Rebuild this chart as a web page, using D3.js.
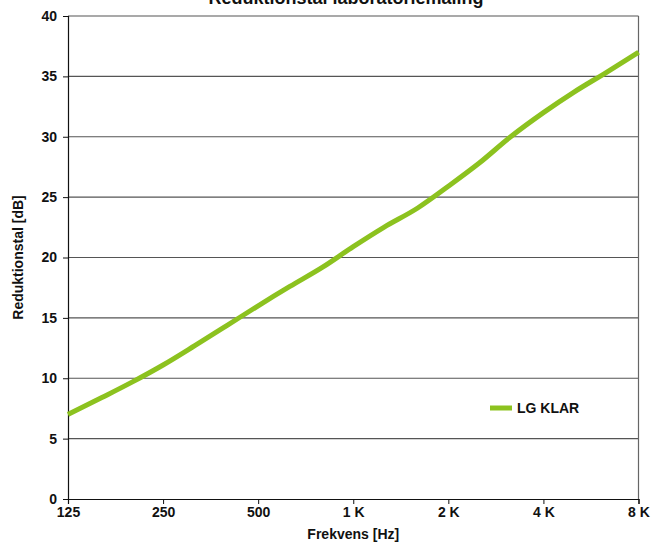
<!DOCTYPE html>
<html>
<head>
<meta charset="utf-8">
<script src="https://cdn.jsdelivr.net/npm/d3@7"></script>
<style>
  body { margin: 0; background: white; }
  text { font-family: "Liberation Sans", Arial, sans-serif; font-weight: bold; fill: #111; }
</style>
</head>
<body>
<script>
// frequencies (1/3 octave) and reduction values
var freqs = [125, 160, 200, 250, 315, 400, 500, 630, 800, 1000, 1250, 1600, 2000, 2500, 3150, 4000, 5000, 6300, 8000];
var values = [7.0, 8.4, 9.7, 11.1, 12.7, 14.4, 16.0, 17.6, 19.2, 20.9, 22.5, 24.1, 25.9, 27.8, 30.0, 32.0, 33.7, 35.3, 37.0];
var xTicks = [125, 250, 500, 1000, 2000, 4000, 8000];
var xTickLabels = ["125", "250", "500", "1 K", "2 K", "4 K", "8 K"];
var yTicks = [0, 5, 10, 15, 20, 25, 30, 35, 40];
var seriesName = "LG KLAR";

var w = 651, h = 545;
var margin = {top: 16, right: 12, bottom: 46, left: 68};

var svg = d3.select("body").append("svg")
  .attr("width", w)
  .attr("height", h);

var xScale = d3.scaleLog().base(2)
  .domain([125, 8000])
  .range([margin.left, w - margin.right - 0.5]);

var yScale = d3.scaleLinear()
  .domain([0, 40])
  .range([h - margin.bottom, margin.top]);

// gridlines
svg.selectAll(".grid")
  .data(yTicks.filter(function(d) { return d > 0; }))
  .enter().append("line")
  .attr("x1", margin.left)
  .attr("x2", xScale(8000))
  .attr("y1", function(d) { return yScale(d); })
  .attr("y2", function(d) { return yScale(d); })
  .attr("stroke", "#555")
  .attr("stroke-width", 1.2);

// right border
svg.append("line")
  .attr("x1", xScale(8000)).attr("x2", xScale(8000))
  .attr("y1", yScale(40)).attr("y2", yScale(0))
  .attr("stroke", "#666")
  .attr("stroke-width", 1.2);

// y axis
var yAxis = svg.append("g")
  .attr("transform", "translate(" + margin.left + ",0)")
  .call(d3.axisLeft(yScale).tickValues(yTicks).tickSize(5).tickPadding(6));
yAxis.selectAll("text").style("font-size", "14px");

// x axis
var xAxis = svg.append("g")
  .attr("transform", "translate(0," + yScale(0) + ")")
  .call(d3.axisBottom(xScale).tickValues(xTicks).tickSize(5).tickPadding(3)
    .tickFormat(function(d, i) { return xTickLabels[i]; }));
xAxis.selectAll("text").style("font-size", "14px");

svg.selectAll(".domain").attr("stroke", "#111").attr("stroke-width", 1.2);
svg.selectAll(".tick line").attr("stroke", "#111");

// data line
var line = d3.line()
  .x(function(d, i) { return xScale(freqs[i]); })
  .y(function(d) { return yScale(d); })
  .curve(d3.curveMonotoneX);

svg.append("path")
  .datum(values)
  .attr("d", line)
  .attr("fill", "none")
  .attr("stroke", "#8cc21f")
  .attr("stroke-width", 5);

// legend
svg.append("line")
  .attr("x1", 490).attr("x2", 512)
  .attr("y1", 408).attr("y2", 408)
  .attr("stroke", "#8cc21f")
  .attr("stroke-width", 5);
svg.append("text")
  .attr("x", 517).attr("y", 413)
  .style("font-size", "14px")
  .text(seriesName);

// title (partly cut off at top, as in the original)
svg.append("text")
  .attr("x", 346).attr("y", 4)
  .attr("text-anchor", "middle")
  .style("font-size", "18px")
  .text("Reduktionstal laboratoriemåling");

// axis labels
svg.append("text")
  .attr("x", xScale(1000)).attr("y", 539)
  .attr("text-anchor", "middle")
  .style("font-size", "14px")
  .text("Frekvens [Hz]");

svg.append("text")
  .attr("transform", "translate(23," + yScale(20) + ") rotate(-90)")
  .attr("text-anchor", "middle")
  .style("font-size", "14px")
  .text("Reduktionstal [dB]");
</script>
</body>
</html>
